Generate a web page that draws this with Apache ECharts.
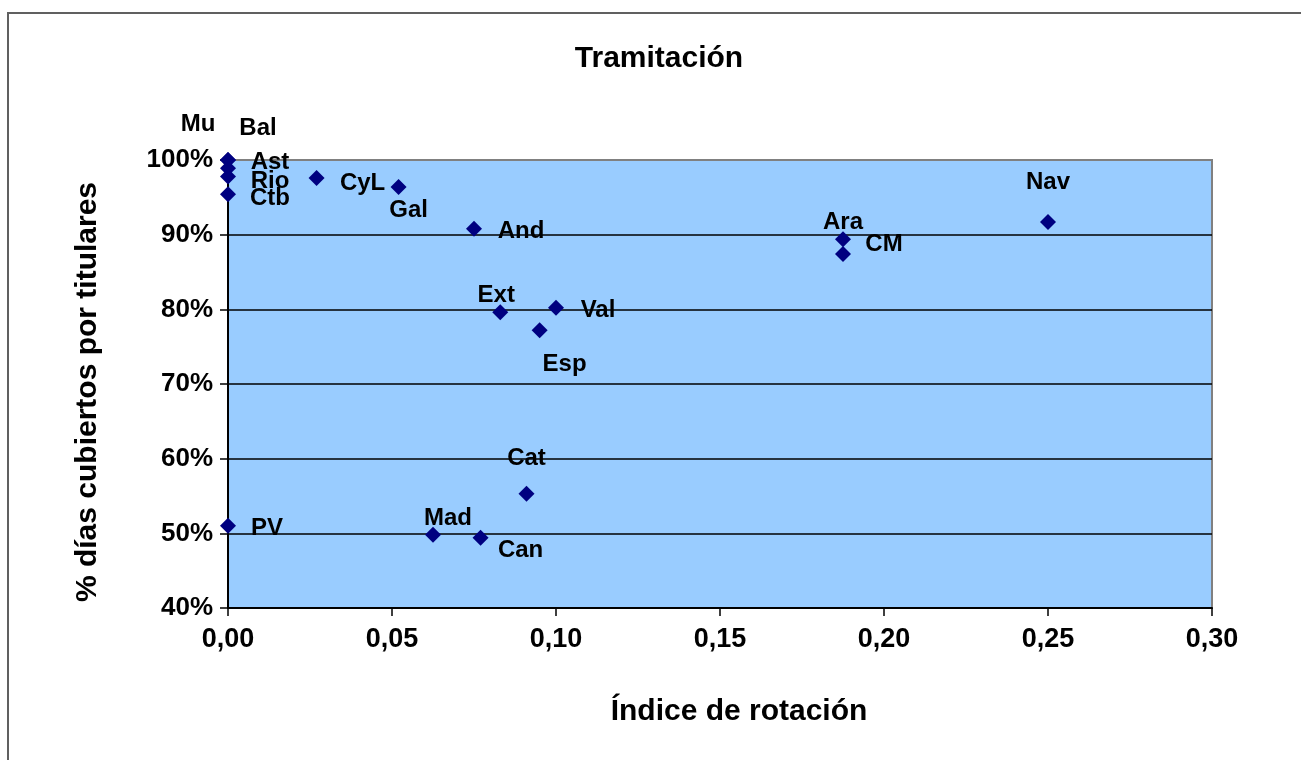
<!DOCTYPE html>
<html>
<head>
<meta charset="utf-8">
<script src="https://cdn.jsdelivr.net/npm/echarts@6/dist/echarts.min.js"></script>
<style>
html,body{margin:0;padding:0;background:#fff;}
#chart{width:1301px;height:760px;}
</style>
</head>
<body>
<div id="chart"></div>
<script>
// Data
const regions = ['Mu','Bal','Ast','Rio','Ctb','CyL','Gal','And','Ext','Val','Esp','Cat','Mad','Can','PV','Ara','CM','Nav'];
const rotacion = [0, 0, 0, 0, 0, 0.027, 0.052, 0.075, 0.083, 0.100, 0.095, 0.091, 0.0625, 0.077, 0, 0.1875, 0.1875, 0.25];
const titulares = [100, 100, 98.9, 97.8, 95.4, 97.6, 96.4, 90.8, 79.6, 80.2, 77.2, 55.3, 49.8, 49.4, 51.0, 89.4, 87.4, 91.7];
const xTicks = ['0,00','0,05','0,10','0,15','0,20','0,25','0,30'];
const yTicks = ['40%','50%','60%','70%','80%','90%','100%'];

// label offsets (layout only)
const labelOffsets = {
  Mu:[-30,-36], Bal:[30,-32], Ast:[42,-6], Rio:[42,5], Ctb:[42,4],
  CyL:[46,5], Gal:[10,23], And:[47,3], Ext:[-4,-17], Val:[42,3],
  Esp:[25,34], Cat:[0,-35], Mad:[15,-16], Can:[40,13], PV:[39,3],
  Ara:[0,-17], CM:[41,-10], Nav:[0,-40]
};

const FONT = '"Liberation Sans", Arial, sans-serif';
const data = regions.map((r,i)=>({
  name: r,
  value: [rotacion[i], titulares[i]]
}));

const chart = echarts.init(document.getElementById('chart'), null, {renderer:'canvas'});
chart.setOption({
  animation: false,
  backgroundColor: '#ffffff',
  graphic: [{
    type: 'rect', z: -1,
    shape: {x: 8, y: 13, width: 1400, height: 900},
    style: {fill: 'none', stroke: '#606060', lineWidth: 2}
  }, {
    type: 'text', x: 659, y: 59,
    style: {text: 'Tramitación', font: 'bold 30px ' + FONT, fill: '#000', align: 'center', verticalAlign: 'middle'}
  }, {
    type: 'text', x: 739, y: 712,
    style: {text: 'Índice de rotación', font: 'bold 30px ' + FONT, fill: '#000', align: 'center', verticalAlign: 'middle'}
  }, {
    type: 'text', x: 88, y: 392, rotation: Math.PI/2, originX: 0, originY: 0,
    style: {text: '% días cubiertos por titulares', font: 'bold 30px ' + FONT, fill: '#000', align: 'center', verticalAlign: 'middle'}
  }],
  grid: {
    left: 228, top: 160, width: 984, height: 448,
    show: true, backgroundColor: '#99CCFF', borderColor: '#808080', borderWidth: 2
  },
  xAxis: {
    type: 'value', min: 0, max: 0.3, interval: 0.05,
    axisLine: {show: true, onZero: false, lineStyle: {color: '#000', width: 2}},
    axisTick: {show: true, length: 8, inside: false, lineStyle: {color: '#000', width: 1.5}},
    axisLabel: {
      margin: 18, fontFamily: FONT, fontWeight: 'bold', fontSize: 27, color: '#000',
      formatter: (v)=> xTicks[Math.round(v/0.05)]
    },
    splitLine: {show: false}
  },
  yAxis: {
    type: 'value', min: 40, max: 100, interval: 10,
    axisLine: {show: true, onZero: false, lineStyle: {color: '#000', width: 2}},
    axisTick: {show: true, length: 8, inside: false, lineStyle: {color: '#000', width: 1.5}},
    axisLabel: {
      margin: 15, fontFamily: FONT, fontWeight: 'bold', fontSize: 26, color: '#000',
      formatter: (v)=> yTicks[Math.round((v-40)/10)]
    },
    splitLine: {show: true, showMinLine: false, showMaxLine: false, lineStyle: {color: '#000', width: 1.5}}
  },
  series: [{
    type: 'scatter',
    symbol: 'diamond',
    symbolSize: 16,
    itemStyle: {color: '#000080', opacity: 1},
    label: {
      show: true, position: 'inside',
      formatter: '{b}',
      fontFamily: FONT, fontWeight: 'bold', fontSize: 24, color: '#000',
      textBorderWidth: 0,
      align: 'center', verticalAlign: 'middle'
    },
    labelLayout: function (params) {
      const off = labelOffsets[regions[params.dataIndex]] || [0,0];
      return {dx: off[0], dy: off[1], hideOverlap: false};
    },
    data: data,
    clip: false
  }]
});
</script>
</body>
</html>
